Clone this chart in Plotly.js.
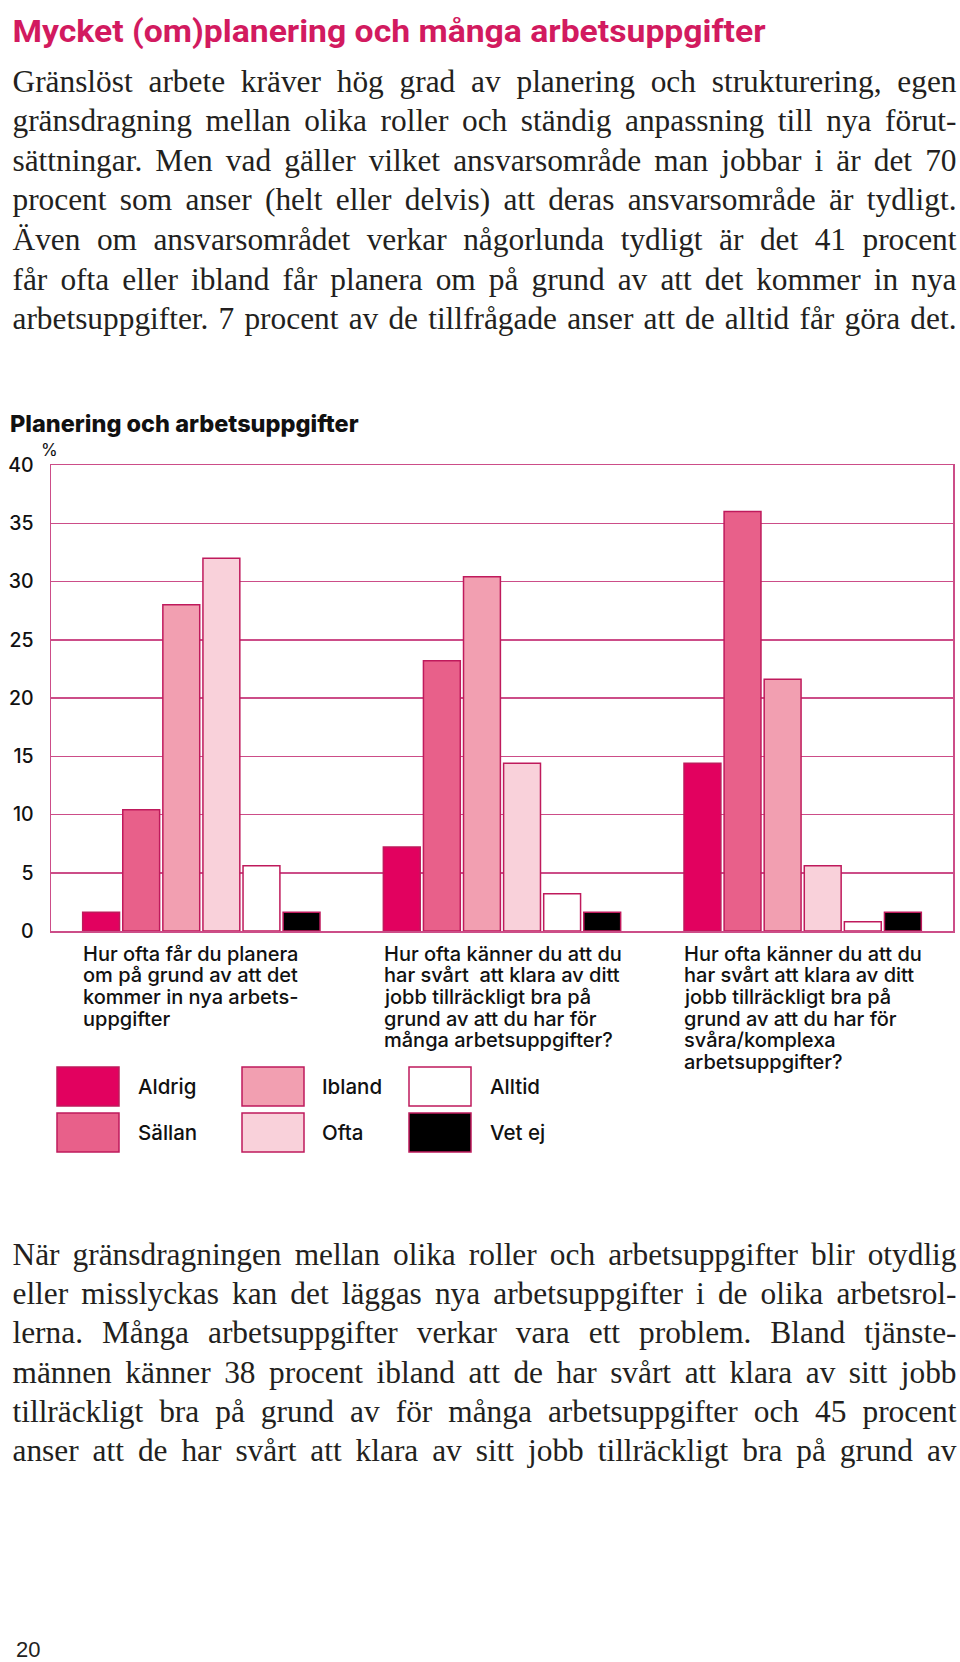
<!DOCTYPE html>
<html>
<head>
<meta charset="utf-8">
<script src="https://cdn.plot.ly/plotly-3.0.1.min.js"></script>
<style>
  html, body { margin:0; padding:0; background:#fff; }
  #page { position:relative; width:960px; height:1662px; overflow:hidden; background:#fff; }
  #chart { position:absolute; left:0; top:0; width:960px; height:1662px; }
  #txt { position:absolute; left:0; top:0; pointer-events:none; }
</style>
</head>
<body>
<div id="page">
  <div id="chart"></div>
  <svg id="txt" width="960" height="1662" xmlns="http://www.w3.org/2000/svg"></svg>
</div>
<script>
// ---------- DATA ----------
const questions = [
  ["Hur ofta får du planera", "om på grund av att det", "kommer in nya arbets-", "uppgifter"],
  ["Hur ofta känner du att du", "har svårt\u00a0 att klara av ditt", "jobb tillräckligt bra på", "grund av att du har för", "många arbetsuppgifter?"],
  ["Hur ofta känner du att du", "har svårt att klara av ditt", "jobb tillräckligt bra på", "grund av att du har för", "svåra/komplexa", "arbetsuppgifter?"]
];
const categories = questions.map(q => q.join(" "));

const seriesNames = ["Aldrig", "Sällan", "Ibland", "Ofta", "Alltid", "Vet ej"];
const aldrig = [1.6, 7.2, 14.4];
const sallan = [10.4, 23.2, 36.0];
const ibland = [28.0, 30.4, 21.6];
const ofta   = [32.0, 14.4, 5.6];
const alltid = [5.6, 3.2, 0.8];
const vetEj  = [1.6, 1.6, 1.6];
const seriesValues = [aldrig, sallan, ibland, ofta, alltid, vetEj];
const seriesColors = ["#e2015f", "#e8608a", "#f29fb1", "#f9d1da", "#ffffff", "#000000"];

const yTickValues = [0, 5, 10, 15, 20, 25, 30, 35, 40];

const pageTitle = "Mycket (om)planering och många arbetsuppgifter";
const chartTitle = "Planering och arbetsuppgifter";
const unitLabel = "%";
const pageNumber = "20";
const introLines = [
  "Gränslöst arbete kräver hög grad av planering och strukturering, egen",
  "gränsdragning mellan olika roller och ständig anpassning till nya förut-",
  "sättningar. Men vad gäller vilket ansvarsområde man jobbar i är det 70",
  "procent som anser (helt eller delvis) att deras ansvarsområde är tydligt.",
  "Även om ansvarsområdet verkar någorlunda tydligt är det 41 procent",
  "får ofta eller ibland får planera om på grund av att det kommer in nya",
  "arbetsuppgifter. 7 procent av de tillfrågade anser att de alltid får göra det."
];
const outroLines = [
  "När gränsdragningen mellan olika roller och arbetsuppgifter blir otydlig",
  "eller misslyckas kan det läggas nya arbetsuppgifter i de olika arbetsrol-",
  "lerna. Många arbetsuppgifter verkar vara ett problem. Bland tjänste-",
  "männen känner 38 procent ibland att de har svårt att klara av sitt jobb",
  "tillräckligt bra på grund av för många arbetsuppgifter och 45 procent",
  "anser att de har svårt att klara av sitt jobb tillräckligt bra på grund av"
];

// ---------- LAYOUT GEOMETRY (pixels) ----------
const W = 960, H = 1662;
const plotL = 51, plotR = 953, plotT = 465, plotB = 931;
const pw = plotR - plotL, ph = plotB - plotT;
const px2x = p => (p - plotL) / pw;
const px2y = p => (plotB - p) / ph;

const outline = "#bf1a5c";
const gridCol = "#cc4d88";
const sansFont = "Inter, 'Noto Sans', 'Liberation Sans', sans-serif";

const traces = seriesNames.map((name, i) => ({
  type: "bar",
  name: name,
  x: categories,
  y: seriesValues[i],
  marker: { color: seriesColors[i], line: { color: outline, width: 1.5 } },
  hoverinfo: "skip",
  showlegend: false
}));

const annotations = [];
// % unit label
annotations.push({
  xref: "paper", yref: "paper", x: px2x(49.5), y: px2y(449.5), xanchor: "center", yanchor: "middle",
  text: unitLabel, showarrow: false, font: { family: sansFont, size: 17, color: "#111" }
});
// question labels under each group, one annotation per line
const lineGap = 21.7, firstCenter = 953.5;
questions.forEach((lines, ci) => {
  lines.forEach((ln, li) => {
    annotations.push({
      xref: "x", yref: "paper", x: ci - 0.4, y: px2y(firstCenter + li * lineGap),
      xanchor: "left", yanchor: "middle", text: ln, showarrow: false,
      font: { family: sansFont, size: 20, weight: 500, color: "#111" }
    });
  });
});
// legend (layout only)
const legColX = [57, 242, 409], legLabelX = [136, 320, 488];
const legRowY = [1067, 1113], boxW = 62, boxH = 39;
const shapes = [];
seriesNames.forEach((name, i) => {
  const c = Math.floor(i / 2), r = i % 2;
  const x0 = legColX[c], y0 = legRowY[r];
  shapes.push({
    type: "rect", xref: "paper", yref: "paper",
    x0: px2x(x0), x1: px2x(x0 + boxW), y0: px2y(y0), y1: px2y(y0 + boxH),
    fillcolor: seriesColors[i], line: { color: outline, width: 1.5 }
  });
  annotations.push({
    xref: "paper", yref: "paper", x: px2x(legLabelX[c]), y: px2y(y0 + boxH / 2),
    xanchor: "left", yanchor: "middle", text: name, showarrow: false,
    font: { family: sansFont, size: 20.5, weight: 500, color: "#111" }
  });
});

const layout = {
  width: W, height: H,
  margin: { l: plotL, r: W - plotR, t: plotT, b: H - plotB, pad: 0 },
  paper_bgcolor: "rgba(0,0,0,0)", plot_bgcolor: "#fff",
  title: {
    text: chartTitle, xref: "container", yref: "container",
    x: 10 / W, xanchor: "left", y: 1 - 423.5 / H, yanchor: "middle",
    font: { family: sansFont, size: 23.5, weight: 800, color: "#111" }
  },
  barmode: "group", bargap: 0.2, bargroupgap: 0.08,
  showlegend: false,
  xaxis: {
    type: "category", range: [-0.5, 2.5], showticklabels: false, ticks: "",
    showgrid: false, zeroline: false, showline: true, mirror: true,
    linecolor: gridCol, linewidth: 1.5, fixedrange: true
  },
  yaxis: {
    range: [0, 40], tickvals: yTickValues, ticktext: yTickValues.map(String),
    showgrid: true, gridcolor: gridCol, gridwidth: 1.5, zeroline: false,
    showline: true, mirror: true, linecolor: gridCol, linewidth: 1.5,
    ticks: "", ticklabelstandoff: 12,
    tickfont: { family: sansFont, size: 19.5, weight: 500, color: "#111" }, fixedrange: true
  },
  shapes: shapes,
  annotations: annotations
};

Plotly.newPlot("chart", traces, layout, { displayModeBar: false, staticPlot: true });

// ---------- PAGE TEXT (SVG overlay) ----------
const NS = "http://www.w3.org/2000/svg";
const svg = document.getElementById("txt");
function addText(str, x, y, attrs) {
  const t = document.createElementNS(NS, "text");
  t.setAttribute("x", x); t.setAttribute("y", y);
  for (const k in attrs) t.setAttribute(k, attrs[k]);
  t.textContent = str;
  svg.appendChild(t);
  return t;
}
const serif = "'Liberation Serif', 'DejaVu Serif', serif";
const textLeft = 12.5, textRight = 956.5;
const bodySize = 32, bodyStretch = 0.98;

addText(pageTitle, 12.5, 41.5, {
  "font-family": "'Liberation Sans Narrow', Roboto, 'Liberation Sans', sans-serif",
  "font-size": 32, "font-weight": 700, fill: "#d21a5f",
  textLength: 753, lengthAdjust: "spacingAndGlyphs"
});

function justifyLines(lines, firstBaseline, gap) {
  lines.forEach((ln, i) => {
    const t = addText(ln, 0, 0, {
      "font-family": serif, "font-size": bodySize, fill: "#231f20",
      transform: "translate(" + textLeft + "," + (firstBaseline + i * gap) + ") scale(" + bodyStretch + ",1)"
    });
    const nat = t.getComputedTextLength();
    const n = (ln.match(/ /g) || []).length;
    const target = (textRight - textLeft) / bodyStretch;
    if (n > 0) t.style.wordSpacing = ((target - nat) / n) + "px";
  });
}
justifyLines(introLines, 91.5, 39.6);
justifyLines(outroLines, 1265, 39.2);

addText(pageNumber, 16, 1657, {
  "font-family": "'Liberation Sans', Arial, sans-serif", "font-size": 22, fill: "#222"
});
</script>
</body>
</html>
